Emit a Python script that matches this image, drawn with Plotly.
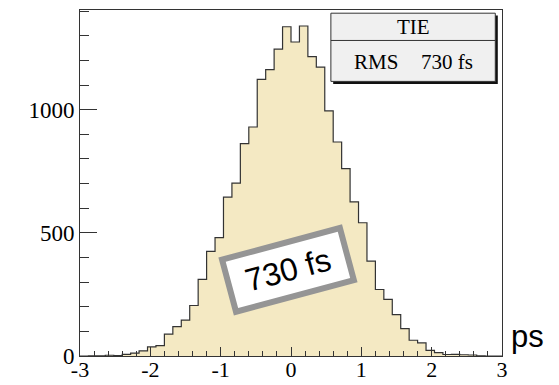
import plotly.graph_objects as go

# ---- data ----
counts = [0, 1, 1, 3, 2, 7, 12, 21, 37, 42,
          89, 119, 146, 205, 311, 425, 481, 645, 702, 862,
          930, 1123, 1163, 1246, 1337, 1275, 1340, 1216, 1173, 995,
          869, 761, 626, 541, 385, 270, 230, 168, 111, 64,
          53, 23, 14, 6, 7, 5, 4, 1, 0, 0]
bin_start = -3.0
bin_width = 0.12
x_tick_vals = [-3, -2, -1, 0, 1, 2, 3]
x_tick_text = ["-3", "-2", "-1", "0", "1", "2", "3"]
y_tick_vals = [0, 500, 1000]
y_tick_text = ["0", "500", "1000"]
stats_title = "TIE"
stats_label = "RMS"
stats_value = "730 fs"
callout_text = "730 fs"
x_unit = "ps"

# ---- geometry helpers (pixels -> paper) ----
W, H = 559, 385
L, R, T, B = 80, 501.7, 9.5, 356


def px(x):
    return (x - L) / (R - L)


def py(y):
    return (B - y) / (B - T)


edges = [bin_start + bin_width * i for i in range(len(counts) + 1)]
xs = edges
ys = counts + [counts[-1]]

fill_col = "#f4e9c3"
line_col = "#333333"

fig = go.Figure()
fig.add_trace(go.Scatter(
    x=xs, y=ys, mode="lines", line=dict(shape="hv", color=line_col, width=1.2),
    fill="tozeroy", fillcolor=fill_col, hoverinfo="skip", showlegend=False))

serif = "Liberation Serif, Times New Roman, serif"
sans = "Liberation Sans, Arial, sans-serif"

fig.update_layout(
    width=W, height=H,
    margin=dict(l=L, r=W - R, t=T, b=H - B, pad=0, autoexpand=False),
    paper_bgcolor="white", plot_bgcolor="white",
    showlegend=False,
    xaxis=dict(range=[-3, 3], showgrid=False, zeroline=False, automargin=False,
               showline=True, linecolor=line_col, linewidth=1, mirror=True,
               ticks="inside", ticklen=9, tickwidth=1, tickcolor=line_col,
               tickvals=x_tick_vals, ticktext=x_tick_text, ticklabelstandoff=-6,
               tickfont=dict(family=serif, size=22, color="black"),
               minor=dict(ticks="inside", ticklen=5, dtick=0.2, tick0=-3,
                          tickcolor=line_col, tickwidth=1, showgrid=False)),
    yaxis=dict(range=[0, 1405], showgrid=False, zeroline=False, automargin=False,
               showline=True, linecolor=line_col, linewidth=1, mirror=True,
               ticks="inside", ticklen=17, tickwidth=1, tickcolor=line_col,
               tickvals=y_tick_vals, ticktext=y_tick_text,
               tickfont=dict(family=serif, size=23, color="black"),
               minor=dict(ticks="inside", ticklen=9, dtick=100, tick0=0,
                          tickcolor=line_col, tickwidth=1, showgrid=False)),
)

# stats box (shadow, box, separator)
fig.add_shape(type="rect", xref="paper", yref="paper",
              x0=px(333), x1=px(497.5), y0=py(83.5), y1=py(15),
              fillcolor="#111111", line=dict(width=0))
fig.add_shape(type="rect", xref="paper", yref="paper",
              x0=px(330.7), x1=px(495), y0=py(81), y1=py(12.7),
              fillcolor="#f0f0f0", line=dict(color="#333333", width=1))
fig.add_shape(type="line", xref="paper", yref="paper",
              x0=px(330.7), x1=px(495), y0=py(40), y1=py(40),
              line=dict(color="#333333", width=1))

fig.add_annotation(text=stats_title, xref="paper", yref="paper",
                   x=px(413), y=py(27), showarrow=False,
                   xanchor="center", yanchor="middle",
                   font=dict(family=serif, size=21, color="black"))
fig.add_annotation(text=stats_label, xref="paper", yref="paper",
                   x=px(352), y=py(62), showarrow=False,
                   xanchor="left", yanchor="middle",
                   font=dict(family=serif, size=21, color="black"))
fig.add_annotation(text=stats_value, xref="paper", yref="paper",
                   x=px(475), y=py(62), showarrow=False,
                   xanchor="right", yanchor="middle",
                   font=dict(family=serif, size=21, color="black"))

# rotated call-out box
fig.add_annotation(text=callout_text, xref="paper", yref="paper",
                   x=px(287.5), y=py(270), showarrow=False,
                   xanchor="center", yanchor="middle", textangle=-15,
                   font=dict(family=sans, size=32, color="black"),
                   bgcolor="white", bordercolor="#959595", borderwidth=6,
                   borderpad=5, width=106, height=38)

# unit label
fig.add_annotation(text=x_unit, xref="paper", yref="paper",
                   x=px(509), y=py(336), showarrow=False,
                   xanchor="left", yanchor="middle",
                   font=dict(family=sans, size=31, color="black"))

fig.write_html("out.html")
